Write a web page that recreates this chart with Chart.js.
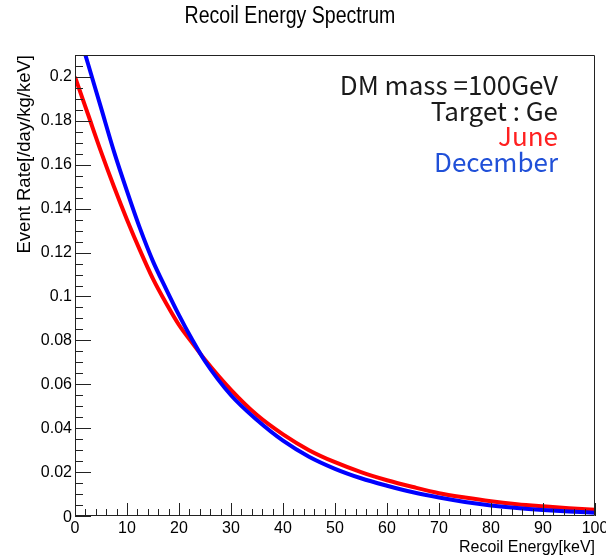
<!DOCTYPE html>
<html>
<head>
<meta charset="utf-8">
<script src="https://cdn.jsdelivr.net/npm/chart.js@4.4.0/dist/chart.umd.min.js"></script>
<style>
  html, body { margin: 0; padding: 0; background: #fff; }
  canvas { display: block; }
</style>
</head>
<body>
<canvas id="spectrum" width="606" height="558"></canvas>
<script>
// recoil energy [keV]
var energy = [0, 2.5, 5, 7.5, 10, 12.5, 15, 17.5, 20, 22.5, 25, 30, 35, 40, 45, 50, 55, 60, 65, 70, 75, 80, 85, 90, 95, 100];
// event rate [/day/kg/keV]
var juneRate = [0.200, 0.183, 0.166, 0.150, 0.135, 0.121, 0.108, 0.097, 0.087, 0.079, 0.0712, 0.0575, 0.046, 0.0372, 0.030, 0.0245, 0.020, 0.0163, 0.0132, 0.0104, 0.0084, 0.0067, 0.0054, 0.0044, 0.0035, 0.0028];
var decemberRate = [0.226, 0.206, 0.186, 0.166, 0.148, 0.131, 0.116, 0.1035, 0.0915, 0.0805, 0.0705, 0.055, 0.0437, 0.0343, 0.027, 0.0215, 0.0172, 0.0138, 0.0108, 0.0084, 0.0064, 0.0048, 0.0036, 0.0027, 0.0020, 0.0015];

var chartTitle = 'Recoil Energy Spectrum';
var infoLines = ['DM mass =100GeV', 'Target : Ge'];

function points(ys) {
  return energy.map(function (e, i) { return { x: e, y: ys[i] }; });
}

function fmtY(v) {
  if (v === 0) return '0';
  return String(Math.round(v * 100) / 100);
}

// frame with inward ticks, tick labels, title and text box
var rootFrame = {
  id: 'rootFrame',
  afterDatasetsDraw: function (chart) {
    var ctx = chart.ctx, a = chart.chartArea;
    var xs = chart.scales.x, ys = chart.scales.y;
    ctx.save();
    ctx.strokeStyle = '#222';
    ctx.lineWidth = 1;
    ctx.beginPath();
    ctx.rect(a.left + 0.5, a.top + 0.5, a.right - a.left - 1, a.bottom - a.top - 1);

    var i, p;
    // y ticks every 0.005, labelled every 0.02
    for (i = 0; i * 0.005 <= ys.max + 1e-9; i++) {
      p = Math.round(ys.getPixelForValue(i * 0.005)) + 0.5;
      ctx.moveTo(a.left, p);
      ctx.lineTo(a.left + (i % 4 === 0 ? 16 : 8), p);
    }
    // x ticks every 2, labelled every 10
    for (i = 0; i * 2 <= xs.max; i++) {
      p = Math.round(xs.getPixelForValue(i * 2)) + 0.5;
      ctx.moveTo(p, a.bottom);
      ctx.lineTo(p, a.bottom - (i % 5 === 0 ? 13 : 7));
    }
    ctx.stroke();

    ctx.fillStyle = '#000';
    ctx.font = '16px "Liberation Sans"';
    ctx.textAlign = 'right';
    ctx.textBaseline = 'middle';
    for (i = 0; i * 0.02 <= ys.max + 1e-9; i++) {
      ctx.fillText(fmtY(i * 0.02), a.left - 3, ys.getPixelForValue(i * 0.02) + (i === 0 ? 2 : 0));
    }
    ctx.textAlign = 'center';
    ctx.textBaseline = 'top';
    for (i = 0; i * 10 <= xs.max; i++) {
      ctx.fillText(String(i * 10), xs.getPixelForValue(i * 10), a.bottom + 5);
    }

    // condensed title
    ctx.save();
    ctx.translate(290, 17);
    ctx.scale(0.85, 1);
    ctx.font = '23px "Liberation Sans"';
    ctx.textBaseline = 'middle';
    ctx.fillText(chartTitle, 0, 0);
    ctx.restore();

    // text box, upper right
    ctx.font = '26px "Noto Sans CJK JP"';
    ctx.textAlign = 'right';
    ctx.textBaseline = 'alphabetic';
    var tx = a.right - 37, ty = 95, step = 25.7;
    ctx.fillStyle = '#1a1a1a';
    infoLines.forEach(function (t, k) { ctx.fillText(t, tx, ty + k * step); });
    var sets = chart.data.datasets;
    ctx.fillStyle = sets[0].textColor;
    ctx.fillText(sets[0].label, tx, ty + 2 * step);
    ctx.fillStyle = sets[1].textColor;
    ctx.fillText(sets[1].label, tx, ty + 3 * step);
    ctx.restore();
  }
};

new Chart(document.getElementById('spectrum'), {
  type: 'line',
  data: {
    datasets: [{
      label: 'June',
      data: points(juneRate),
      borderColor: '#ff0000',
      textColor: '#ff2020',
      borderWidth: 4,
      pointRadius: 0,
      cubicInterpolationMode: 'monotone',
      clip: 0,
      order: 1
    }, {
      label: 'December',
      data: points(decemberRate),
      borderColor: '#0000ff',
      textColor: '#2050d8',
      borderWidth: 4,
      pointRadius: 0,
      cubicInterpolationMode: 'monotone',
      clip: 0,
      order: 0
    }]
  },
  options: {
    responsive: false,
    animation: false,
    layout: { padding: { top: 55, right: 11, left: 0, bottom: 0 } },
    plugins: {
      legend: { display: false },
      tooltip: { enabled: false },
      title: { display: false }
    },
    scales: {
      x: {
        type: 'linear',
        min: 0,
        max: 100,
        grid: { display: false },
        border: { display: false },
        ticks: { display: false },
        title: {
          display: true,
          text: 'Recoil Energy[keV]',
          align: 'end',
          color: '#000',
          font: { family: 'Liberation Sans', size: 16 },
          padding: { top: 0, bottom: 1 }
        },
        afterFit: function (s) { s.height = 42; }
      },
      y: {
        min: 0,
        max: 0.21,
        grid: { display: false },
        border: { display: false },
        ticks: { display: false },
        title: {
          display: true,
          text: 'Event Rate[/day/kg/keV]',
          align: 'end',
          color: '#000',
          font: { family: 'Liberation Sans', size: 18.5 },
          padding: { top: 14, bottom: 0 }
        },
        afterFit: function (s) { s.width = 75; }
      }
    }
  },
  plugins: [rootFrame]
});
</script>
</body>
</html>
